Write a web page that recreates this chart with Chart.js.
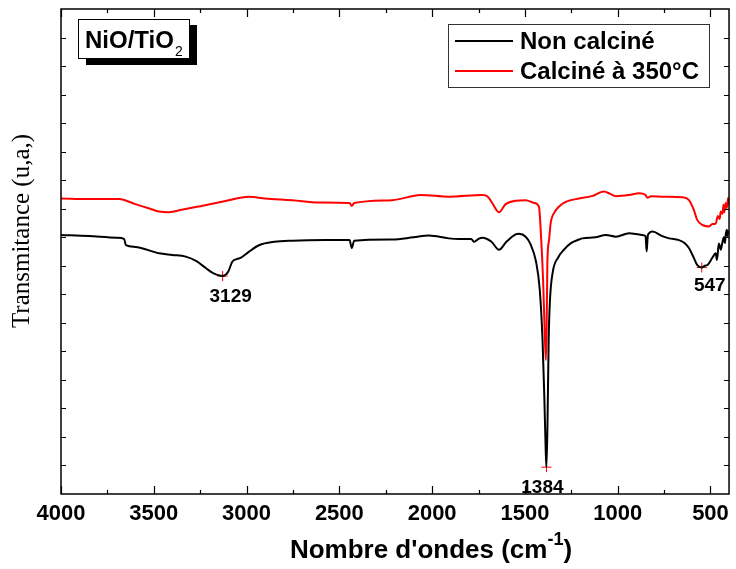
<!DOCTYPE html>
<html>
<head>
<meta charset="utf-8">
<script src="https://cdn.jsdelivr.net/npm/chart.js@4.4.0/dist/chart.umd.min.js"></script>
<style>
  html, body { margin: 0; padding: 0; background: #fff; }
</style>
</head>
<body>
<canvas id="ftir" width="736" height="569"></canvas>
<script>
// ------ DATA ------
var wnNonCalcine = [4000, 3850, 3700, 3660, 3650, 3600, 3472, 3400, 3328, 3270, 3220, 3180, 3129, 3100, 3077, 3050, 3032, 2990, 2933, 2850, 2754, 2574, 2445, 2433, 2420, 2215, 2100, 2017, 1910, 1855, 1790, 1774, 1750, 1730, 1680, 1640, 1600, 1550, 1532, 1496, 1470, 1440, 1420, 1405, 1395, 1388, 1384, 1378, 1372, 1365, 1350, 1320, 1290, 1250, 1208, 1190, 1120, 1064, 1010, 939, 870, 850, 844, 838, 831, 813, 760, 723, 670, 640, 616, 590, 571, 547, 530, 517, 490, 472, 465, 455, 450, 445, 435, 428, 422, 418, 412, 408, 405, 400];
var tNonCalcine = [45.4, 45.2, 44.9, 44.7, 43.6, 43.3, 42.2, 41.9, 41.6, 40.8, 39.6, 38.7, 38.2, 38.9, 40.7, 41.2, 41.4, 42.4, 43.6, 44.2, 44.4, 44.5, 44.5, 43.1, 44.4, 44.6, 45.0, 45.3, 44.8, 44.7, 44.7, 44.2, 44.7, 44.9, 44.2, 42.8, 44.2, 45.5, 45.6, 45.1, 43.8, 40.7, 35.8, 27.0, 16.5, 7.7, 4.7, 13.0, 27.0, 34.0, 38.9, 41.5, 42.8, 44.0, 44.6, 44.8, 45.0, 45.4, 45.1, 45.7, 45.4, 45.2, 42.5, 45.2, 45.7, 46.0, 45.2, 44.8, 44.5, 44.0, 43.1, 41.4, 40.1, 39.7, 40.0, 40.1, 41.4, 42.2, 41.0, 43.9, 43.5, 42.8, 44.2, 45.0, 44.0, 45.4, 46.3, 45.2, 45.9, 46.1];

var wnCalcine = [4000, 3850, 3687, 3600, 3520, 3472, 3418, 3350, 3256, 3120, 2987, 2900, 2754, 2610, 2445, 2433, 2420, 2215, 2062, 1909, 1730, 1700, 1676, 1640, 1604, 1550, 1496, 1450, 1424, 1415, 1402, 1392, 1387, 1383, 1379, 1370, 1361, 1340, 1316, 1280, 1208, 1140, 1074, 1040, 1010, 939, 885, 850, 840, 820, 750, 652, 616, 590, 571, 540, 508, 490, 472, 460, 450, 445, 435, 430, 425, 418, 412, 405, 400];
var tCalcine = [51.8, 51.7, 51.7, 50.8, 50.0, 49.5, 49.4, 49.8, 50.4, 51.3, 52.1, 51.8, 51.5, 51.1, 51.0, 50.5, 51.0, 51.5, 52.4, 52.1, 52.4, 52.1, 51.0, 49.4, 50.8, 51.4, 51.5, 51.0, 50.3, 46.3, 37.5, 27.0, 23.5, 28.7, 40.5, 44.5, 47.5, 49.4, 50.4, 51.2, 51.8, 52.2, 53.0, 52.6, 52.2, 52.4, 52.7, 52.4, 51.9, 52.2, 52.1, 52.0, 51.5, 49.8, 48.0, 47.1, 46.9, 47.3, 47.4, 48.7, 48.2, 49.5, 49.1, 50.7, 49.4, 51.0, 50.1, 51.9, 50.7];

var peakLabels = ['3129', '1384', '547'];
var peakWn = [3129, 1384, 547];
var peakT = [38.2, 4.7, 39.7];

var xTicks = [4000, 3500, 3000, 2500, 2000, 1500, 1000, 500];
var seriesNames = ['Non calciné', 'Calciné à 350°C'];
var seriesColors = ['#000000', '#ff0000'];

var SANS = "'Liberation Sans', Arial, Helvetica, sans-serif";
var SERIF = "'Liberation Serif', 'Times New Roman', serif";

// where each peak label sits relative to its marker (dx, dy)
var peakLabelShift = [[8, 21], [-4, 21], [8, 18]];

function toPoints(xs, ys){
	return xs.map(function(x, i){ return {x: x, y: ys[i]}; });
}

// frame + inward ticks, like the origin plot
var framePlugin = {
	id: 'frame',
	afterDatasetsDraw: function(chart){
		var ctx = chart.ctx, a = chart.chartArea;
		var xs = chart.scales.x, ys = chart.scales.y;
		ctx.save();
		ctx.strokeStyle = '#000';
		ctx.lineWidth = 1.5;
		ctx.strokeRect(a.left, a.top, a.right - a.left, a.bottom - a.top);
		ctx.lineWidth = 1.2;
		ctx.beginPath();
		for(var w = 500; w <= 4000; w += 250){
			var px = Math.round(xs.getPixelForValue(w)) + 0.5;
			var len = (w % 500 === 0) ? 8 : 4;
			ctx.moveTo(px, a.bottom); ctx.lineTo(px, a.bottom - len);
			ctx.moveTo(px, a.top); ctx.lineTo(px, a.top + len);
		}
		for(var v = 5; v < 85; v += 5){
			var py = Math.round(ys.getPixelForValue(v)) + 0.5;
			ctx.moveTo(a.left, py); ctx.lineTo(a.left + 5, py);
			ctx.moveTo(a.right, py); ctx.lineTo(a.right - 5, py);
		}
		ctx.stroke();
		ctx.restore();
	}
};

// boxes, legend, peak labels and axis titles
var textPlugin = {
	id: 'texts',
	afterDraw: function(chart){
		var ctx = chart.ctx;
		var xs = chart.scales.x, ys = chart.scales.y;
		ctx.save();

		// sample box with shadow
		ctx.fillStyle = '#000';
		ctx.fillRect(86, 25, 111, 40);
		ctx.fillStyle = '#fff';
		ctx.fillRect(78, 19, 112, 40);
		ctx.strokeStyle = '#000';
		ctx.lineWidth = 1;
		ctx.strokeRect(78.5, 19.5, 111, 39);
		ctx.fillStyle = '#000';
		ctx.textAlign = 'left';
		ctx.textBaseline = 'alphabetic';
		ctx.font = 'bold 24px ' + SANS;
		ctx.fillText('NiO/TiO', 85, 48);
		var wSub = ctx.measureText('NiO/TiO').width;
		ctx.font = '14px ' + SANS;
		ctx.fillText('2', 85 + wSub + 1, 56);

		// legend
		ctx.fillStyle = '#fff';
		ctx.fillRect(448, 24, 262, 64);
		ctx.strokeStyle = '#333';
		ctx.lineWidth = 1;
		ctx.strokeRect(448.5, 24.5, 261, 63);
		ctx.font = 'bold 24px ' + SANS;
		ctx.textBaseline = 'middle';
		chart.data.datasets.forEach(function(ds, i){
			if(ds.hideLegend) return;
			var y = 41 + i * 30;
			ctx.strokeStyle = ds.borderColor;
			ctx.lineWidth = 2;
			ctx.beginPath();
			ctx.moveTo(455, y); ctx.lineTo(513, y);
			ctx.stroke();
			ctx.fillStyle = '#000';
			ctx.fillText(ds.label, 520, y + 1);
		});

		// peak labels
		ctx.font = 'bold 19px ' + SANS;
		ctx.textAlign = 'center';
		ctx.fillStyle = '#000';
		peakLabels.forEach(function(lab, i){
			var px = xs.getPixelForValue(peakWn[i]);
			var py = ys.getPixelForValue(peakT[i]);
			ctx.fillText(lab, px + peakLabelShift[i][0], py + peakLabelShift[i][1]);
		});

		// y title
		ctx.save();
		ctx.translate(22, 231);
		ctx.rotate(-Math.PI / 2);
		ctx.font = '25px ' + SERIF;
		ctx.textAlign = 'center';
		ctx.textBaseline = 'middle';
		ctx.fillText('Transmitance (u,a,)', 0, 0);
		ctx.restore();

		// x title with superscript
		ctx.textAlign = 'left';
		ctx.textBaseline = 'alphabetic';
		var main = "Nombre d'ondes (cm", sup = '-1', close = ')';
		ctx.font = 'bold 26px ' + SANS;
		var w1 = ctx.measureText(main).width, w3 = ctx.measureText(close).width;
		ctx.font = 'bold 18px ' + SANS;
		var w2 = ctx.measureText(sup).width;
		var x0 = 431 - (w1 + w2 + w3) / 2;
		ctx.font = 'bold 26px ' + SANS;
		ctx.fillText(main, x0, 558);
		ctx.fillText(close, x0 + w1 + w2, 558);
		ctx.font = 'bold 18px ' + SANS;
		ctx.fillText(sup, x0 + w1, 545);
		ctx.restore();
	}
};

new Chart(document.getElementById('ftir'), {
	type: 'line',
	data: {
		datasets: [
			{
				label: seriesNames[0],
				data: toPoints(wnNonCalcine, tNonCalcine),
				borderColor: seriesColors[0],
				borderWidth: 2,
				pointRadius: 0,
				cubicInterpolationMode: 'monotone'
			},
			{
				label: seriesNames[1],
				data: toPoints(wnCalcine, tCalcine),
				borderColor: seriesColors[1],
				borderWidth: 2,
				pointRadius: 0,
				cubicInterpolationMode: 'monotone'
			},
			{
				type: 'scatter',
				label: 'pics',
				hideLegend: true,
				data: toPoints(peakWn, peakT),
				pointStyle: 'cross',
				pointRadius: 5,
				borderColor: '#ff0000',
				borderWidth: 1
			}
		]
	},
	options: {
		responsive: false,
		animation: false,
		layout: {
			padding: { left: 61, right: 6, top: 9, bottom: 0 }
		},
		plugins: {
			legend: { display: false },
			tooltip: { enabled: false }
		},
		scales: {
			x: {
				type: 'linear',
				reverse: true,
				min: 400,
				max: 4000,
				afterBuildTicks: function(scale){
					scale.ticks = xTicks.map(function(v){ return {value: v}; });
				},
				afterFit: function(scale){ scale.height = 75; },
				grid: { display: false, drawTicks: false },
				border: { display: false },
				ticks: {
					color: '#000',
					padding: 7,
					maxRotation: 0,
					font: { family: SANS, size: 22, weight: 'bold' },
					callback: function(value){ return String(value); }
				}
			},
			y: {
				display: false,
				min: 0,
				max: 85
			}
		}
	},
	plugins: [framePlugin, textPlugin]
});
</script>
</body>
</html>
